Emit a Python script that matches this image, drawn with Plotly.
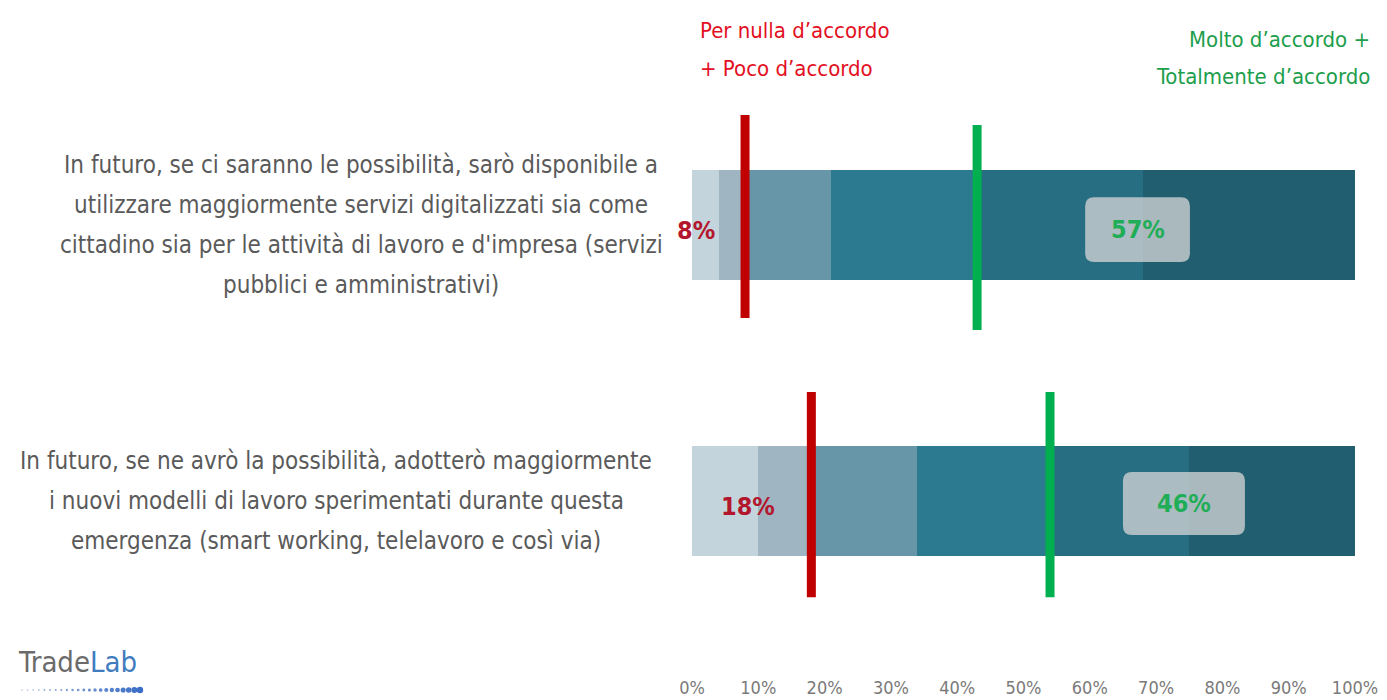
import plotly.graph_objects as go

# ---------------- data ----------------
categories = [
    ["In futuro, se ci saranno le possibilità, sarò disponibile a",
     "utilizzare maggiormente servizi digitalizzati sia come",
     "cittadino sia per le attività di lavoro e d'impresa (servizi",
     "pubblici e amministrativi)"],
    ["In futuro, se ne avrò la possibilità, adotterò maggiormente",
     "i nuovi modelli di lavoro sperimentati durante questa",
     "emergenza (smart working, telelavoro e così via)"],
]
row_pos = [1, 0]
seg1 = [4, 10]
seg2 = [4, 8]
seg3 = [13, 16]
seg4 = [22, 20]
seg5 = [25, 21]
seg6 = [32, 25]
disagree = [8, 18]   # Per nulla + Poco d'accordo
agree = [57, 46]     # Molto + Totalmente d'accordo
tick_vals = list(range(0, 101, 10))
tick_labels = [f"{v}%" for v in tick_vals]

# ---------------- style ----------------
seg_colors = ["#c4d4dc", "#9fb6c2", "#6796a8", "#2c7a90", "#286e83", "#215f70"]
FONT = "DejaVu Sans Condensed, Liberation Sans Narrow, sans-serif"
RED_LINE = "#c00000"
GREEN_LINE = "#00b050"
RED_TXT = "#b3172d"
GREEN_TXT = "#1fae57"

OFF = 8  # page body margin
W, H = 1387 - OFF, 700 - OFF
PL_S, PT_S, PR, PB = 692, 95, 32, 25   # screen positions of plot area
PL, PT = PL_S - OFF, PT_S - OFF
PW, PH = W - PL - PR, H - PT - PB
Y0, Y1 = -0.630, 1.471


def px_x(px):
    return (px - PL_S) / PW


def px_y(py):
    return (PT_S + PH - py) / PH


ypx = PH / (Y1 - Y0)  # pixels per y unit
xpx = PW / 100.0      # pixels per x unit

fig = go.Figure()
for vals, col in zip([seg1, seg2, seg3, seg4, seg5, seg6], seg_colors):
    fig.add_trace(go.Bar(
        x=vals, y=row_pos, orientation="h", width=0.40,
        marker=dict(color=col, line=dict(width=0)),
        hoverinfo="skip", showlegend=False,
    ))

shapes = []
annotations = []

# vertical indicator lines
red_ext = [(1.399, 0.663), (0.395, -0.348)]
green_ext = [(1.362, 0.620), (0.395, -0.348)]
for i, y in enumerate(row_pos):
    xr = disagree[i]
    xg = 100 - agree[i]
    shapes.append(dict(type="line", xref="x", yref="y", x0=xr, x1=xr,
                       y0=red_ext[i][1], y1=red_ext[i][0],
                       line=dict(color=RED_LINE, width=9), layer="above"))
    shapes.append(dict(type="line", xref="x", yref="y", x0=xg, x1=xg,
                       y0=green_ext[i][1], y1=green_ext[i][0],
                       line=dict(color=GREEN_LINE, width=9), layer="above"))


def rounded_rect(x0, x1, y0, y1, r_px=9):
    rx = r_px / xpx
    ry = r_px / ypx
    return (f"M {x0+rx},{y1} L {x1-rx},{y1} Q {x1},{y1} {x1},{y1-ry} "
            f"L {x1},{y0+ry} Q {x1},{y0} {x1-rx},{y0} L {x0+rx},{y0} "
            f"Q {x0},{y0} {x0},{y0+ry} L {x0},{y1-ry} Q {x0},{y1} {x0+rx},{y1} Z")


# agree label boxes
agree_box = [(59.3, 75.1, 0.866, 1.101), (65.0, 83.4, -0.123, 0.105)]
for i, y in enumerate(row_pos):
    bx0, bx1, by0, by1 = agree_box[i]
    shapes.append(dict(type="path", xref="x", yref="y",
                       path=rounded_rect(bx0, bx1, by0, by1),
                       fillcolor="rgba(200,205,208,0.82)",
                       line=dict(width=0), layer="above"))
    annotations.append(dict(x=(bx0 + bx1) / 2, y=(by0 + by1) / 2, xref="x", yref="y",
                            text=f"<b>{agree[i]}%</b>", showarrow=False,
                            font=dict(family=FONT, size=25, color=GREEN_TXT)))

# disagree labels
disagree_label_x = [0.6, 8.5]
for i, y in enumerate(row_pos):
    annotations.append(dict(x=disagree_label_x[i], y=y - 0.02, xref="x", yref="y",
                            text=f"<b>{disagree[i]}%</b>", showarrow=False,
                            font=dict(family=FONT, size=25, color=RED_TXT)))

# category labels (centered multi-line blocks)
text_center_px = [361, 336]
line_gap = 40 / ypx
for i, y in enumerate(row_pos):
    lines = categories[i]
    n = len(lines)
    for k, line in enumerate(lines):
        yy = y + ((n - 1) / 2 - k) * line_gap
        annotations.append(dict(x=px_x(text_center_px[i]), y=yy, xref="paper", yref="y",
                                text=line, showarrow=False, xanchor="center", yanchor="middle",
                                font=dict(family=FONT, size=24, color="#5a5a5a")))

# header legends
annotations += [
    dict(x=px_x(698), y=px_y(30), xref="paper", yref="paper", xanchor="left", yanchor="middle",
         text="Per nulla d’accordo", showarrow=False,
         font=dict(family=FONT, size=22, color="#e3101f")),
    dict(x=px_x(698), y=px_y(68), xref="paper", yref="paper", xanchor="left", yanchor="middle",
         text="+ Poco d’accordo", showarrow=False,
         font=dict(family=FONT, size=22, color="#e3101f")),
    dict(x=px_x(1372), y=px_y(40), xref="paper", yref="paper", xanchor="right", yanchor="middle",
         text="Molto d’accordo +", showarrow=False,
         font=dict(family=FONT, size=22, color="#1d9e4c")),
    dict(x=px_x(1372), y=px_y(76), xref="paper", yref="paper", xanchor="right", yanchor="middle",
         text="Totalmente d’accordo", showarrow=False,
         font=dict(family=FONT, size=22, color="#1d9e4c")),
]

# logo
annotations.append(dict(x=px_x(16), y=px_y(662), xref="paper", yref="paper",
                        xanchor="left", yanchor="middle", showarrow=False,
                        text="<span style='color:#6b6b6b'>Trade</span><span style='color:#3f7cc0'>Lab</span>",
                        font=dict(family=FONT, size=29)))
n_dots = 22
for j in range(n_dots):
    cx = 22 + j * (118 / (n_dots - 1))
    t = j / (n_dots - 1)
    r = 0.8 + 2.4 * t ** 2
    col = f"rgb({int(170 - 110 * t)},{int(190 - 80 * t)},{int(220 - 20 * t)})"
    shapes.append(dict(type="circle", xref="paper", yref="paper",
                       x0=px_x(cx - r), x1=px_x(cx + r), y0=px_y(690 + r), y1=px_y(690 - r),
                       fillcolor=col, line=dict(width=0)))

fig.update_layout(
    barmode="stack",
    width=W, height=H,
    margin=dict(l=PL, r=PR, t=PT, b=PB, autoexpand=False),
    paper_bgcolor="white", plot_bgcolor="white",
    bargap=0,
    xaxis=dict(range=[0, 100], tickvals=tick_vals, ticktext=tick_labels,
               showgrid=False, zeroline=False, showline=False, ticks="",
               tickfont=dict(family=FONT, size=18, color="#7a7a7a"), fixedrange=True),
    yaxis=dict(range=[Y0, Y1], showticklabels=False, showgrid=False, zeroline=False,
               showline=False, ticks="", fixedrange=True),
    shapes=shapes,
    annotations=annotations,
    showlegend=False,
)

fig.write_html("out.html")
